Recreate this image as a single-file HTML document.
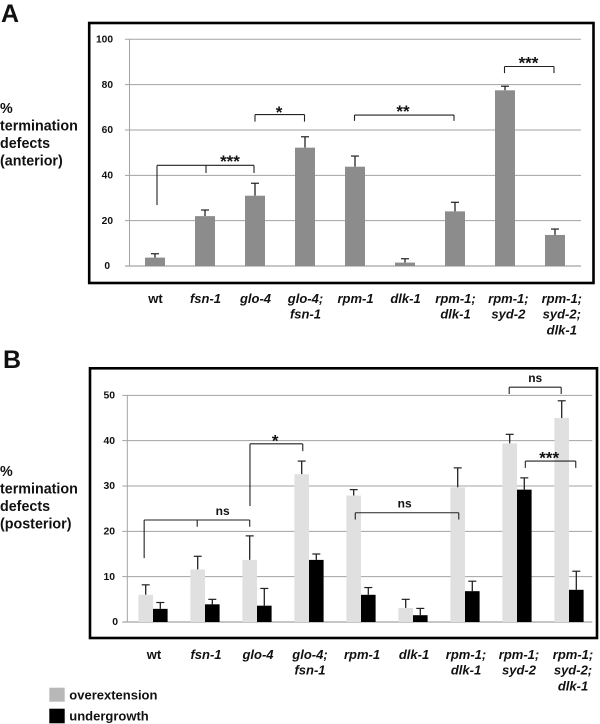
<!DOCTYPE html>
<html lang="en">
<head>
<meta charset="utf-8">
<title>Termination defects chart</title>
<style>
html,body{margin:0;padding:0;background:#fff;}
svg{display:block;}
text{font-family:"Liberation Sans",sans-serif;font-weight:bold;fill:#111;}
</style>
</head>
<body>
<svg id="figure" xmlns="http://www.w3.org/2000/svg" width="600" height="724" viewBox="0 0 600 724">
  <text x="1" y="22" font-size="25">A</text>
  <text x="3" y="368" font-size="25">B</text>
  <rect x="89.2" y="23" width="504.3" height="260" fill="none" stroke="#000" stroke-width="2.6"/>
  <rect x="90" y="368.3" width="507" height="269.7" fill="none" stroke="#000" stroke-width="2.6"/>
  <g font-size="14.3">
    <text x="0" y="113">%</text>
    <text x="0" y="130.5">termination</text>
    <text x="0" y="148">defects</text>
    <text x="0" y="165.5">(anterior)</text>
  </g>
  <g font-size="14.3">
    <text x="0" y="476">%</text>
    <text x="0" y="493.5">termination</text>
    <text x="0" y="511">defects</text>
    <text x="0" y="528.5">(posterior)</text>
  </g>
  <g>
    <g>
      <rect x="49.3" y="687.7" width="15.4" height="14" fill="#b8b8b8"/>
      <text x="69.3" y="699.3" font-size="13">overextension</text>
    </g>
    <g>
      <rect x="49.3" y="708.7" width="15.4" height="14.6" fill="#000"/>
      <text x="69.3" y="720.7" font-size="13">undergrowth</text>
    </g>
  </g>
  <g id="panel-a"></g>
  <g id="panel-b"></g>
</svg>
<script>
const categories = [
  ['wt'], ['fsn-1'], ['glo-4'], ['glo-4;', 'fsn-1'], ['rpm-1'], ['dlk-1'],
  ['rpm-1;', 'dlk-1'], ['rpm-1;', 'syd-2'], ['rpm-1;', 'syd-2;', 'dlk-1']
];
const ticksA = [0, 20, 40, 60, 80, 100];
const ticksB = [0, 10, 20, 30, 40, 50];

const anteriorValues = [3.7, 22, 31, 52.2, 43.8, 1.5, 24.1, 77.5, 13.7];
const anteriorErrors = [1.7, 2.7, 5.5, 4.8, 4.7, 1.7, 4, 1.8, 2.6];

const overextensionValues = [6, 11.6, 13.7, 32.6, 27.9, 3.1, 29.7, 39.4, 45];
const overextensionErrors = [2.2, 2.9, 5.3, 2.9, 1.3, 1.9, 4.3, 2, 3.8];
const undergrowthValues = [2.9, 3.9, 3.6, 13.7, 6, 1.5, 6.8, 29.2, 7.1];
const undergrowthErrors = [1.4, 1.1, 3.8, 1.3, 1.6, 1.5, 2.2, 2.6, 4.1];

const bracketsA = [
  { label: '***', cats: [0.04, 1.02, 1.98], level: 44.4, lows: [26.9, 41, 41], at: 1.5, lift: 1.5 },
  { label: '*', cats: [2, 2.99], level: 66.8, lows: [63.7, 63.7], at: 2.48, lift: 0 },
  { label: '**', cats: [3.99, 5.98], level: 66.6, lows: [64, 64], at: 4.96, lift: 1.5 },
  { label: '***', cats: [6.99, 7.98], level: 88, lows: [85.1, 85.1], at: 7.47, lift: 1.5 }
];
const bracketsB = [
  { label: 'ns', cats: [-0.17, 0.85, 1.86], level: 22.5, lows: [14.1, 21, 21], at: 1.34, lift: 0 },
  { label: '*', cats: [1.865, 2.88], level: 39.3, lows: [25.6, 37.7], at: 2.35, lift: 1 },
  { label: 'ns', cats: [3.89, 5.88], level: 24.1, lows: [22.6, 22.6], at: 4.84, lift: 0 },
  { label: 'ns', cats: [6.85, 7.85], level: 51.8, lows: [50.3, 50.3], at: 7.35, lift: 0 },
  { label: '***', cats: [7.16, 8.13], level: 35.5, lows: [34, 34], at: 7.62, lift: 1 }
];

const NS = 'http://www.w3.org/2000/svg';
function make(parent, tag, attrs) {
  const node = document.createElementNS(NS, tag);
  for (const key in attrs) node.setAttribute(key, attrs[key]);
  parent.appendChild(node);
  return node;
}
function slug(lines) {
  return lines.join('-').replace(/;/g, '');
}

function drawAxes(root, cfg) {
  const y = cfg.y;
  cfg.ticks.forEach(function (tick) {
    const grid = make(root, 'line', { x1: cfg.gridLeft, x2: cfg.gridRight, y1: y(tick), y2: y(tick), stroke: '#a3a3a3', 'stroke-width': tick === 0 ? 1.3 : 1 });
    
    
    const label = make(root, 'text', { x: cfg.tickRight + (tick === 0 ? cfg.zeroShift : 0), y: y(tick) + 3.2, 'font-size': cfg.tickSize, 'text-anchor': 'end' });
    label.textContent = tick;
    
    
  });
  const axis = make(root, 'line', { x1: cfg.axisX, x2: cfg.axisX, y1: y(cfg.ticks[cfg.ticks.length - 1]), y2: y(0), stroke: '#a3a3a3', 'stroke-width': 1 });
  
  
}

function drawBar(root, cfg, left, width, value, err, color, name) {
  const y = cfg.y;
  const mid = left + width / 2;
  const stem = make(root, 'line', { x1: mid, x2: mid, y1: y(value), y2: y(value + err), stroke: '#222', 'stroke-width': 1.3 });
  
  
  const cap = make(root, 'line', { x1: mid - 4, x2: mid + 4, y1: y(value + err), y2: y(value + err), stroke: '#222', 'stroke-width': 1.2 });
  
  
  const bar = make(root, 'rect', { x: left, y: y(value), width: width, height: y(0) - y(value), fill: color });
  
  
}

function drawCategoryLabels(root, cfg) {
  categories.forEach(function (lines, i) {
    const shift = i >= 7 ? cfg.lateShift * (i - 6) : cfg.labelShift;
    lines.forEach(function (line, n) {
      const label = make(root, 'text', { x: cfg.x(i) + shift, y: cfg.labelY + n * 15.7, 'font-size': 13, 'font-style': 'italic', 'text-anchor': 'middle' });
      if (line === 'wt') label.setAttribute('font-style', 'normal');
      label.textContent = line;
      
      
    });
  });
}

function drawBrackets(root, cfg, brackets) {
  brackets.forEach(function (b, i) {
    const top = cfg.y(b.level);
    const first = cfg.x(b.cats[0]);
    const last = cfg.x(b.cats[b.cats.length - 1]);
    let d = 'M' + first + ' ' + top + 'H' + last;
    b.cats.forEach(function (c, k) {
      d += 'M' + cfg.x(c) + ' ' + top + 'V' + cfg.y(b.lows[k]);
    });
    const path = make(root, 'path', { d: d, fill: 'none', stroke: '#222', 'stroke-width': 1.1 });
    
    
    const isNs = b.label === 'ns';
    const text = make(root, 'text', { x: cfg.x(b.at), y: top + (isNs ? -5.2 : 3.4) - b.lift, 'font-size': isNs ? 12 : 17, 'text-anchor': 'middle' });
    text.textContent = b.label;
    
    
  });
}

const panelA = document.getElementById('panel-a');
const cfgA = {
  ticks: ticksA,
  x: function (i) { return 155 + 50 * i; },
  y: function (v) { return 266 - v * 2.267; },
  gridLeft: 125, gridRight: 581, axisX: 129.5, tickRight: 113, zeroShift: -3, tickSize: 10.2,
  labelY: 303, labelShift: 0.5, lateShift: 3.4
};
drawAxes(panelA, cfgA);
anteriorValues.forEach(function (value, i) {
  drawBar(panelA, cfgA, cfgA.x(i) - 10, 20, value, anteriorErrors[i], '#8c8c8c', 'anterior-' + slug(categories[i]));
});
drawCategoryLabels(panelA, cfgA);
drawBrackets(panelA, cfgA, bracketsA);

const panelB = document.getElementById('panel-b');
const cfgB = {
  ticks: ticksB,
  x: function (i) { return 153 + 52 * i; },
  y: function (v) { return 622 - v * 4.533; },
  gridLeft: 122.3, gridRight: 592.3, axisX: 127.3, tickRight: 115, zeroShift: 3, tickSize: 10.4,
  labelY: 659, labelShift: 1, lateShift: 2
};
drawAxes(panelB, cfgB);
overextensionValues.forEach(function (value, i) {
  drawBar(panelB, cfgB, cfgB.x(i) - 14.6, 14.6, value, overextensionErrors[i], '#e0e0e0', 'overextension-' + slug(categories[i]));
});
undergrowthValues.forEach(function (value, i) {
  drawBar(panelB, cfgB, cfgB.x(i), 14.6, value, undergrowthErrors[i], '#000', 'undergrowth-' + slug(categories[i]));
});
drawCategoryLabels(panelB, cfgB);
drawBrackets(panelB, cfgB, bracketsB);
</script>
</body>
</html>
